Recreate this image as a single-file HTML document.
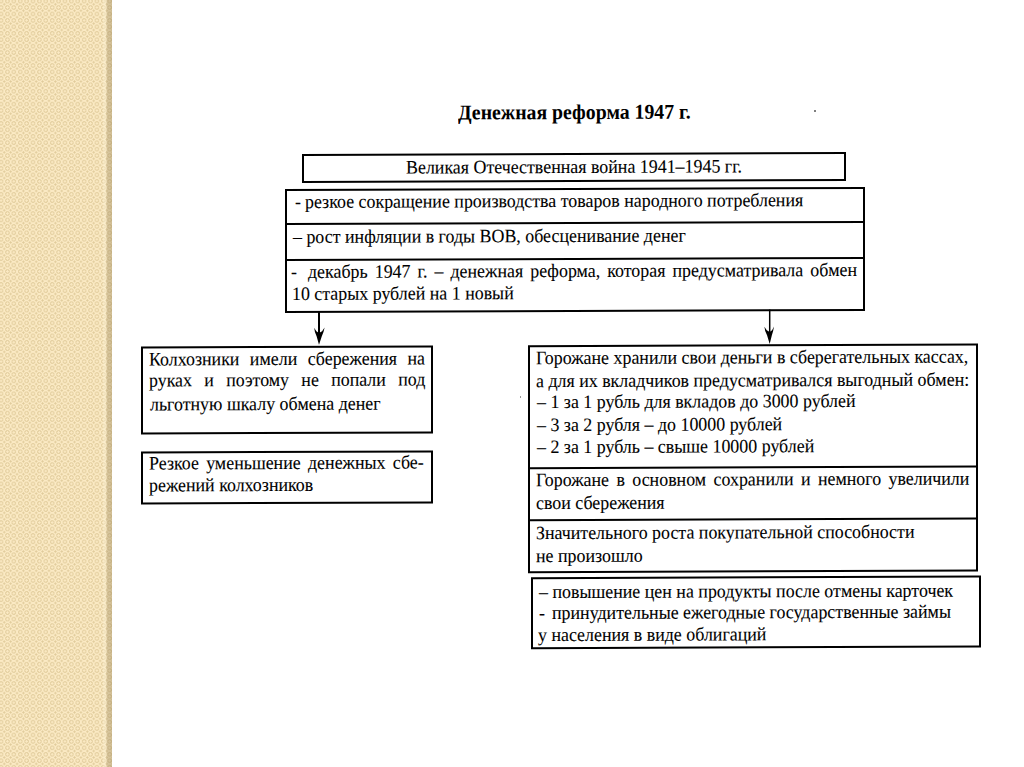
<!DOCTYPE html>
<html><head><meta charset="utf-8"><style>
html,body{margin:0;padding:0;width:1024px;height:767px;overflow:hidden;background:#fff}
#panel{position:absolute;left:0;top:0;width:112px;height:767px;background-color:#fbeac4;
 background-image:
  radial-gradient(circle at 50% 50%, rgba(0,0,0,0) 0.9px, rgba(200,175,118,.45) 1.35px, rgba(200,175,118,.45) 2.0px, rgba(0,0,0,0) 2.55px),
  radial-gradient(circle at 50% 50%, rgba(200,175,118,.55) 0, rgba(200,175,118,.55) 0.8px, rgba(0,0,0,0) 1.35px);
 background-size:6.4px 6.45px;background-position:-2.15px -2.125px, 1.05px 1.075px;}
#shade{position:absolute;left:102px;top:0;width:10px;height:767px;background:linear-gradient(to right, rgba(255,250,230,0) 0, rgba(255,248,225,.35) 25%, rgba(255,248,225,.2) 40%, rgba(150,130,85,.33) 50%, rgba(150,130,85,.4) 100%)}
#doc{position:absolute;left:0;top:0;width:1024px;height:767px;transform:skewY(-0.2deg);transform-origin:575px 400px}
.bx{position:absolute;box-sizing:border-box;border:2px solid #000}
.hl{position:absolute;height:2px;background:#000}
.ar{position:absolute;overflow:visible}
.tx,.tb{position:absolute;-webkit-text-stroke:0.1px #000;white-space:pre;font-family:"Liberation Serif",serif;line-height:1;color:#000;transform:scaleX(0.942);transform-origin:0 0}
.tx{font-size:19px}
.tb{font-size:21px;font-weight:bold;-webkit-text-stroke:0}
</style></head><body>
<div id="panel"></div><div id="shade"></div>
<div style="position:absolute;left:814px;top:110px;width:1.5px;height:1.5px;background:#555;border-radius:1px" class="speck"></div>
<div style="position:absolute;left:520px;top:396px;width:1px;height:1.5px;background:#999" class="speck"></div>
<div id="doc">
<div class="bx" style="left:302.20px;top:153.06px;width:544.30px;height:28.65px"></div>
<div class="bx" style="left:284.50px;top:188.43px;width:580.40px;height:123.43px"></div>
<div class="hl" style="left:285.50px;top:222.47px;width:578.40px"></div>
<div class="hl" style="left:285.50px;top:257.73px;width:578.40px"></div>
<div class="bx" style="left:141.45px;top:344.72px;width:291.25px;height:88.65px"></div>
<div class="bx" style="left:141.45px;top:449.60px;width:291.45px;height:53.73px"></div>
<div class="bx" style="left:528.00px;top:345.25px;width:450.38px;height:227.60px"></div>
<div class="hl" style="left:529.00px;top:466.58px;width:448.38px"></div>
<div class="hl" style="left:529.00px;top:518.83px;width:448.38px"></div>
<div class="bx" style="left:531.00px;top:577.45px;width:450.20px;height:71.08px"></div>
<svg class="ar" style="left:0;top:0" width="1024" height="767"><line x1="319.00" y1="310.10" x2="319.00" y2="337.10" stroke="#000" stroke-width="2.0"/><path d="M314.20 326.90 L316.36 330.30 L319.00 332.00 L322.08 330.30 L324.60 326.60 L323.48 331.15 L321.80 335.40 L319.00 343.90 L316.60 335.40 L314.92 331.15 Z" fill="#000"/></svg>
<svg class="ar" style="left:0;top:0" width="1024" height="767"><line x1="769.70" y1="310.18" x2="769.70" y2="337.74" stroke="#000" stroke-width="1.5"/><path d="M764.40 327.48 L766.79 330.90 L769.70 332.61 L772.07 330.90 L774.00 327.18 L773.14 331.76 L771.85 336.03 L769.70 344.58 L767.05 336.03 L765.20 331.76 Z" fill="#000"/></svg>
<div class="tb" style="left:458.00px;top:101.63px;word-spacing:0.00px">Денежная реформа 1947 г.</div>
<div class="tx" style="left:406.06px;top:156.93px;word-spacing:0.00px">Великая Отечественная война 1941–1945 гг.</div>
<div class="tx" style="left:294.86px;top:191.44px;word-spacing:0.00px">-</div>
<div class="tx" style="left:305.06px;top:190.84px;word-spacing:0.00px">резкое сокращение производства товаров народного потребления</div>
<div class="tx" style="left:292.70px;top:226.49px;word-spacing:0.00px">– рост инфляции в годы ВОВ, обесценивание денег</div>
<div class="tx" style="left:307.70px;top:261.10px;word-spacing:2.76px">декабрь 1947 г. – денежная реформа, которая предусматривала обмен</div>
<div class="tx" style="left:291.36px;top:261.44px;word-spacing:0.00px">-</div>
<div class="tx" style="left:291.82px;top:283.24px;word-spacing:0.00px">10 старых рублей на 1 новый</div>
<div class="tx" style="left:148.86px;top:348.05px;word-spacing:6.36px">Колхозники имели сбережения на</div>
<div class="tx" style="left:148.86px;top:369.15px;word-spacing:8.30px">руках и поэтому не попали под</div>
<div class="tx" style="left:149.80px;top:392.55px;word-spacing:0.00px">льготную шкалу обмена денег</div>
<div class="tx" style="left:148.86px;top:452.25px;word-spacing:3.01px">Резкое уменьшение денежных сбе-</div>
<div class="tx" style="left:148.86px;top:474.15px;word-spacing:0.00px">режений колхозников</div>
<div class="tx" style="left:535.66px;top:348.31px;word-spacing:0.00px">Горожане хранили свои деньги в сберегательных кассах,</div>
<div class="tx" style="left:535.66px;top:370.51px;word-spacing:0.00px">а для их вкладчиков предусматривался выгодный обмен:</div>
<div class="tx" style="left:536.60px;top:391.91px;word-spacing:0.00px">– 1 за 1 рубль для вкладов до 3000 рублей</div>
<div class="tx" style="left:536.60px;top:414.51px;word-spacing:0.00px">– 3 за 2 рубля – до 10000 рублей</div>
<div class="tx" style="left:536.60px;top:436.91px;word-spacing:0.00px">– 2 за 1 рубль – свыше 10000 рублей</div>
<div class="tx" style="left:535.66px;top:469.91px;word-spacing:3.12px">Горожане в основном сохранили и немного увеличили</div>
<div class="tx" style="left:535.66px;top:493.31px;word-spacing:0.00px">свои сбережения</div>
<div class="tx" style="left:535.66px;top:522.91px;word-spacing:0.00px">Значительного роста покупательной способности</div>
<div class="tx" style="left:535.66px;top:545.61px;word-spacing:0.00px">не произошло</div>
<div class="tx" style="left:538.60px;top:581.51px;word-spacing:0.00px">– повышение цен на продукты после отмены карточек</div>
<div class="tx" style="left:538.56px;top:603.11px;word-spacing:0.00px">-</div>
<div class="tx" style="left:552.36px;top:603.11px;word-spacing:0.00px">принудительные ежегодные государственные займы</div>
<div class="tx" style="left:537.66px;top:624.71px;word-spacing:0.00px">у населения в виде облигаций</div>
</div>
</body></html>
